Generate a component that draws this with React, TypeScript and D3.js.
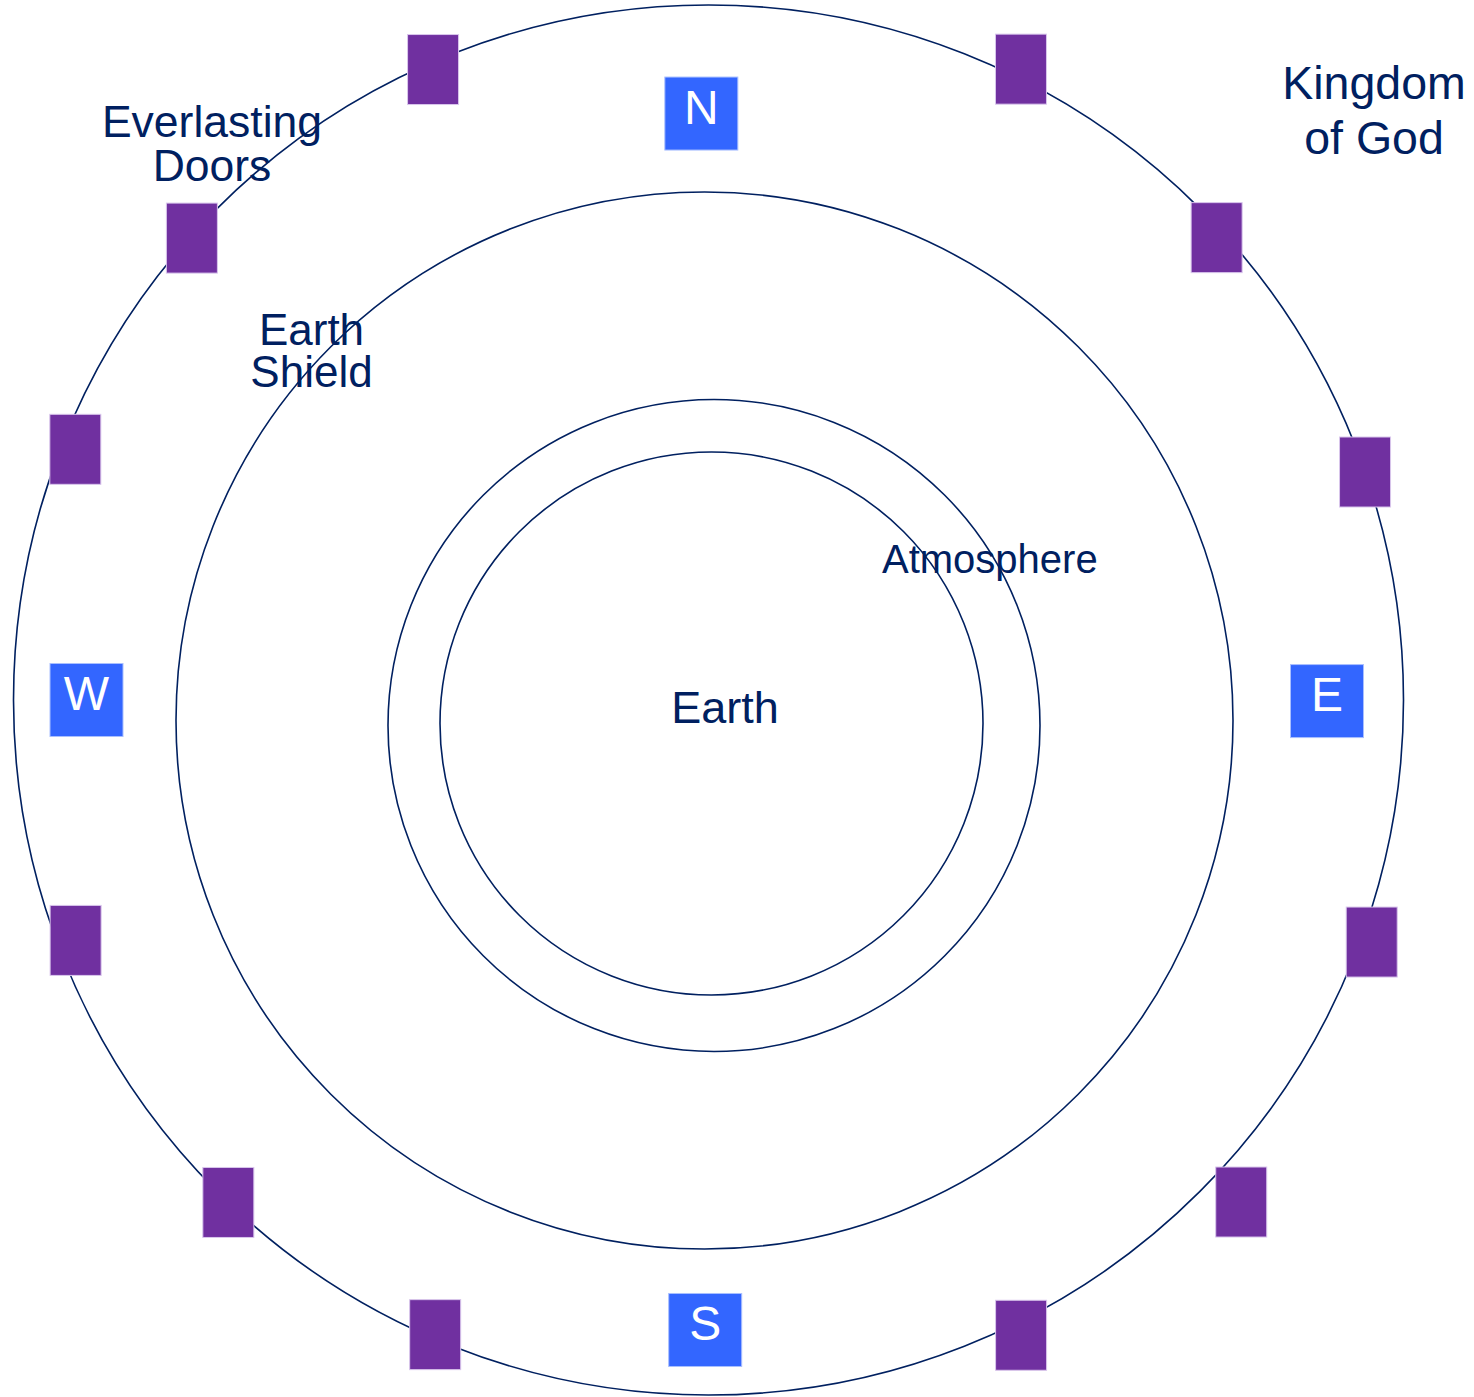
import { pointRadial, scaleLinear } from "d3";

// rings of the diagram, outermost first (centre + radius in px)
const ringNames = ["Kingdom of God", "Earth Shield", "Atmosphere", "Earth"];
const ringCx = [708.5, 704.5, 714, 711.5];
const ringCy = [700, 720.5, 725.5, 723.5];
const ringR = [695, 528.5, 326, 271.5];

// everlasting doors: bearing (deg, clockwise from north) and distance from outer-ring centre
const doorBearing = [336.4, 26.35, 311.8, 47.7, 291.6, 70.85, 249.2, 110.05, 223.7, 133.3, 203.3, 153.8];
const doorDistance = [688, 704, 693, 687, 681, 695, 677, 706, 695, 732, 691, 708];

// compass points
const compassLabels = ["N", "E", "S", "W"];
const compassBearing = [359.3, 90.1, 180.3, 270];
const compassDistance = [586.5, 618.5, 630, 622];

type Label = { lines: string[]; x: number; y: number; size: number; anchor: "middle" | "start"; lh: number };

const labels: Label[] = [
  { lines: ["Everlasting", "Doors"], x: 212, y: 137, size: 44.5, anchor: "middle", lh: 44 },
  { lines: ["Kingdom", "of God"], x: 1374, y: 99, size: 46.5, anchor: "middle", lh: 55 },
  { lines: ["Earth", "Shield"], x: 311.5, y: 345, size: 44, anchor: "middle", lh: 42 },
  { lines: ["Atmosphere"], x: 882, y: 573, size: 40, anchor: "start", lh: 0 },
  { lines: ["Earth"], x: 725, y: 723, size: 45, anchor: "middle", lh: 0 }
];

const navy = "#002060";
const doorFill = "#7030A0";
const compassFill = "#3366FF";
const width = 1474;
const height = 1397;

export default function App() {
  const rad = scaleLinear().domain([0, 360]).range([0, 2 * Math.PI]);
  const cx = ringCx[0];
  const cy = ringCy[0];
  const doorW = 51;
  const doorH = 70;
  const box = 73;

  return (
    <svg
      width={width}
      height={height}
      viewBox={`0 0 ${width} ${height}`}
      style={{ position: "absolute", left: 0, top: 0, background: "#fff" }}
      fontFamily="'Liberation Sans', Arial, sans-serif"
    >
      {ringR.map((r, i) => (
        <circle key={ringNames[i]} cx={ringCx[i]} cy={ringCy[i]} r={r} fill="none" stroke={navy} strokeWidth={1.6} />
      ))}

      {doorBearing.map((b, i) => {
        const [dx, dy] = pointRadial(rad(b), doorDistance[i]);
        return (
          <rect
            key={`door-${i}`}
            x={cx + dx - doorW / 2}
            y={cy + dy - doorH / 2}
            width={doorW}
            height={doorH}
            fill={doorFill}
            stroke="#d9c6ec"
            strokeWidth={1}
          />
        );
      })}

      {compassLabels.map((c, i) => {
        const [dx, dy] = pointRadial(rad(compassBearing[i]), compassDistance[i]);
        const x = cx + dx;
        const y = cy + dy;
        return (
          <g key={c}>
            <rect x={x - box / 2} y={y - box / 2} width={box} height={box} fill={compassFill} stroke="#a9bfff" strokeWidth={1} />
            <text x={x} y={y + 10} textAnchor="middle" fontSize={48} fill="#fff">
              {c}
            </text>
          </g>
        );
      })}

      {labels.map((l) => (
        <text key={l.lines.join(" ")} x={l.x} y={l.y} textAnchor={l.anchor} fontSize={l.size} fill={navy}>
          {l.lines.map((line, j) => (
            <tspan key={line} x={l.x} y={l.y + j * l.lh}>
              {line}
            </tspan>
          ))}
        </text>
      ))}
    </svg>
  );
}
